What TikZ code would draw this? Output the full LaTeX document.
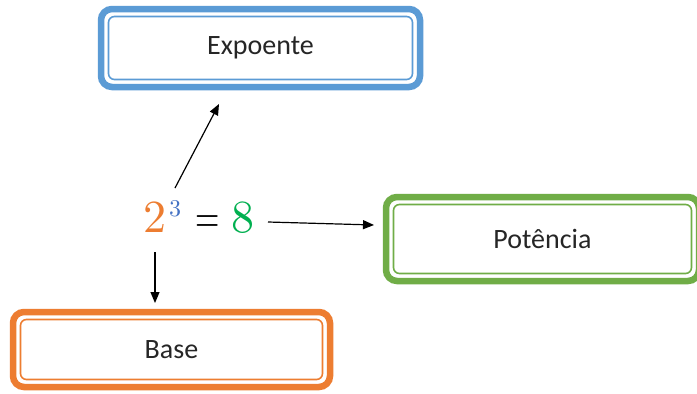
\documentclass[tikz,border=0pt]{standalone}
\usepackage{fontspec}
\setmainfont{Carlito}
\newfontfamily\eqfont{lmroman10-regular}[Extension=.otf]
\usetikzlibrary{arrows.meta,calc}
\definecolor{bblue}{HTML}{5B9BD5}
\definecolor{bgreen}{HTML}{70AD47}
\definecolor{borange}{HTML}{ED7D31}
\definecolor{mblue}{HTML}{4472C4}
\definecolor{mgreen}{HTML}{00B050}
\begin{document}
\begin{tikzpicture}[x=1pt,y=-1pt,
  box/.style={draw, line width=6.5pt, rounded corners=11pt, inner sep=0pt, outer sep=0pt, fill=white,
    font=\fontsize{28}{32}\selectfont, text=black!85},
  innerline/.style={line width=1.6pt, rounded corners=6pt},
  arr/.style={line width=1.2pt, -{Triangle[length=11pt,width=9pt]}}]
\useasboundingbox (0,0) rectangle (697,394);
\fill[white] (0,0) rectangle (697,394);
% boxes
\node[box, draw=bblue, minimum width=319pt, minimum height=78pt] (exp) at (260.5,48) {Expoente};
\node[box, draw=bgreen, minimum width=313pt, minimum height=84pt] (pot) at (542.5,239) {Potência};
\node[box, draw=borange, minimum width=317pt, minimum height=75pt] (base) at (171.5,349.5) {Base};
\draw[innerline, bblue] ($(exp.north west)+(7.5,7.5)$) rectangle ($(exp.south east)+(-7.5,-7.5)$);
\draw[innerline, bgreen] ($(pot.north west)+(7.5,7.5)$) rectangle ($(pot.south east)+(-7.5,-7.5)$);
\draw[innerline, borange] ($(base.north west)+(7.5,7.5)$) rectangle ($(base.south east)+(-7.5,-7.5)$);
% equation
\node[inner sep=0pt, anchor=base west] (eq) at (143,232)
  {\eqfont\fontsize{46}{50}\selectfont\textcolor{borange}{2}\hspace{3pt}\raisebox{16pt}{\eqfont\fontsize{24}{26}\selectfont\textcolor{mblue}{3}}\hspace{14pt}\scalebox{0.68}[1]{=}\hspace{12pt}\textcolor{mgreen}{8}};
% arrow end points
\coordinate (e1s) at (175,188);
\coordinate (e1e) at (219,104);
\coordinate (p1s) at (268,222);
\coordinate (p1e) at (374,225);
\coordinate (b1s) at (155,252);
\coordinate (b1e) at (155,303);
\draw[arr] (e1s) -- (e1e);
\draw[arr] (p1s) -- (p1e);
\draw[arr] (b1s) -- (b1e);
\end{tikzpicture}
\end{document}
